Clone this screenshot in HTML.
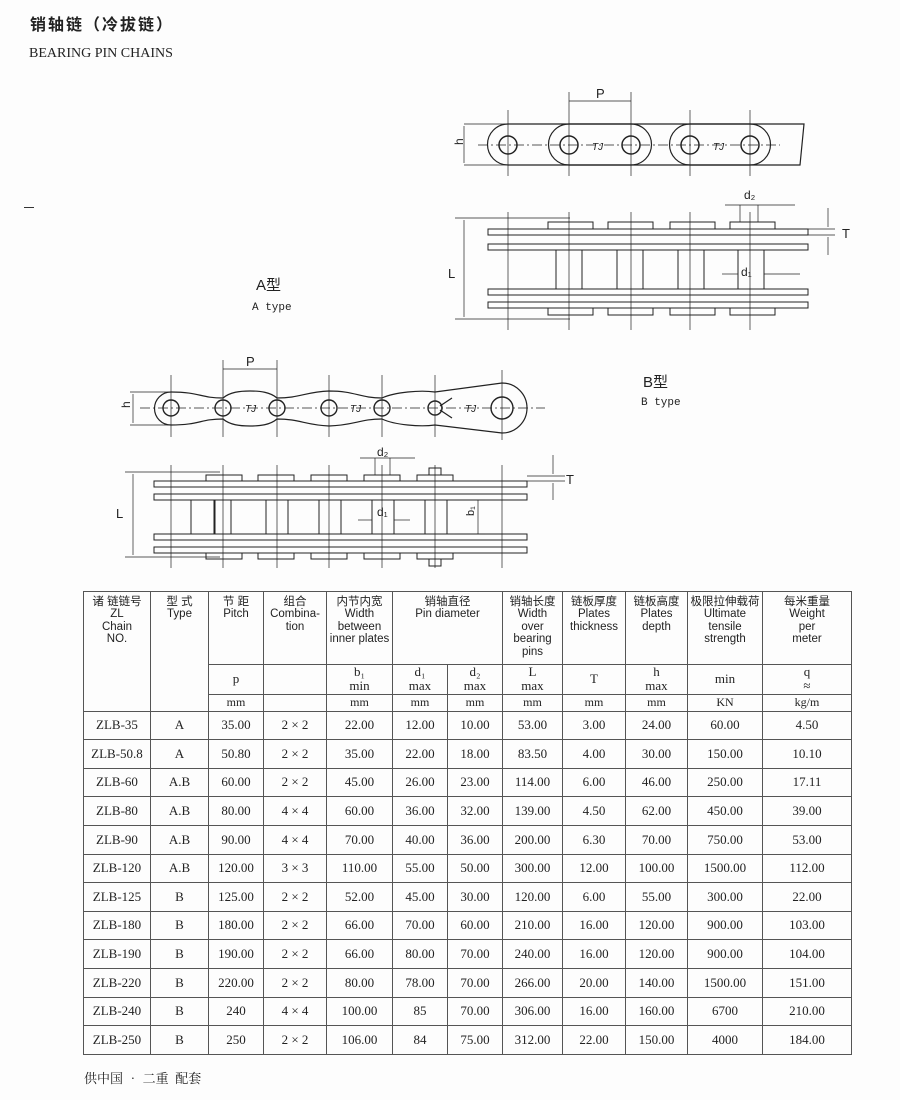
<!DOCTYPE html>
<html><head><meta charset="utf-8"><style>
body{margin:0;width:900px;height:1100px;background:#fdfdfd;position:relative;overflow:hidden;font-family:"Liberation Serif","Noto Serif CJK SC",serif;color:#222}
.a{position:absolute}
table{position:absolute;left:83px;top:591px;border-collapse:collapse;font-size:13px}
td{border:1px solid #555;text-align:center;padding:0;line-height:1.1}
.h{font-family:"Liberation Sans","Noto Sans CJK SC",sans-serif;font-size:11.5px;vertical-align:top;padding-top:4px;line-height:1.08}
tr.d td{height:27.6px;font-size:13px}
</style></head><body>
<div class="a" style="left:30px;top:11px;font:bold 16px 'Noto Sans CJK SC',sans-serif;letter-spacing:2px">销轴链（冷拔链）</div>
<div class="a" style="left:29px;top:46px;font-size:14px">BEARING PIN CHAINS</div>
<div class="a" style="left:24px;top:207px;width:10px;border-top:1px solid #333"></div>
<div class="a" style="left:256px;top:274px;font:15px 'Liberation Sans','Noto Sans CJK SC',sans-serif">A型</div>
<div class="a" style="left:252px;top:302px;font:11px 'Liberation Mono',monospace">A type</div>
<div class="a" style="left:643px;top:371px;font:15px 'Liberation Sans','Noto Sans CJK SC',sans-serif">B型</div>
<div class="a" style="left:641px;top:397px;font:11px 'Liberation Mono',monospace">B type</div>
<div class="a" style="left:84px;top:1068px;font-size:13px;font-family:'Noto Serif CJK SC',serif">供中国 • 二重&nbsp;&nbsp;配套</div>

<svg class="a" style="left:0;top:0" width="900" height="590" stroke="#222" fill="none" stroke-width="1.2" font-family="Liberation Sans,sans-serif">
<g>
<path d="M508 124 H804 L800 165 H508 A20.5 20.5 0 0 1 508 124"/>
<path d="M569 124 H631 A20.5 20.5 0 0 1 631 165 H569 A20.5 20.5 0 0 1 569 124"/>
<path d="M690 124 H750 A20.5 20.5 0 0 1 750 165 H690 A20.5 20.5 0 0 1 690 124"/>
<line x1="478" y1="145" x2="780" y2="145" stroke-width="0.7" stroke-dasharray="10 3 2 3"/>
<g stroke-width="1.5"><circle cx="508" cy="145" r="9"/><circle cx="569" cy="145" r="9"/><circle cx="631" cy="145" r="9"/><circle cx="690" cy="145" r="9"/><circle cx="750" cy="145" r="9"/></g>
<g stroke-width="0.7"><line x1="508" y1="110" x2="508" y2="176"/><line x1="569" y1="92" x2="569" y2="176"/><line x1="631" y1="92" x2="631" y2="176"/><line x1="690" y1="110" x2="690" y2="176"/><line x1="750" y1="110" x2="750" y2="176"/>
<line x1="569" y1="101" x2="631" y2="101"/><line x1="464" y1="124" x2="510" y2="124"/><line x1="464" y1="165" x2="510" y2="165"/><line x1="464" y1="126" x2="464" y2="163"/></g>
<text x="596" y="98" font-size="13" fill="#222" stroke="none">P</text>
<text x="458" y="150" font-size="12" fill="#222" stroke="none" transform="rotate(-90 458 145)">h</text>
<text x="592" y="150" font-size="10" font-style="italic" fill="#222" stroke="none">TJ</text>
<text x="713" y="150" font-size="10" font-style="italic" fill="#222" stroke="none">TJ</text>
</g>
<g stroke-width="1">
<rect x="488" y="229" width="320" height="6"/><rect x="488" y="244" width="320" height="6"/>
<rect x="488" y="289" width="320" height="6"/><rect x="488" y="302" width="320" height="6"/>
<rect x="548" y="222" width="45" height="7"/><rect x="670" y="222" width="45" height="7"/><rect x="730" y="222" width="45" height="7"/><rect x="608" y="222" width="45" height="7"/>
<rect x="548" y="308" width="45" height="7"/><rect x="670" y="308" width="45" height="7"/><rect x="608" y="308" width="45" height="7"/><rect x="730" y="308" width="45" height="7"/>
<rect x="556" y="250" width="26" height="39"/><rect x="617" y="250" width="26" height="39"/><rect x="678" y="250" width="26" height="39"/><rect x="738" y="250" width="26" height="39"/>
<g stroke-width="0.7"><line x1="508" y1="212" x2="508" y2="330"/><line x1="569" y1="212" x2="569" y2="330"/><line x1="631" y1="212" x2="631" y2="330"/><line x1="690" y1="212" x2="690" y2="330"/><line x1="750" y1="212" x2="750" y2="330"/>
<line x1="455" y1="218" x2="570" y2="218"/><line x1="455" y1="319" x2="570" y2="319"/><line x1="464" y1="220" x2="464" y2="317"/>
<line x1="725" y1="205" x2="795" y2="205"/><line x1="740" y1="205" x2="740" y2="222"/><line x1="758" y1="205" x2="758" y2="222"/>
<line x1="722" y1="274" x2="738" y2="274"/><line x1="764" y1="274" x2="800" y2="274"/>
<line x1="780" y1="229" x2="835" y2="229"/><line x1="780" y1="235" x2="835" y2="235"/><line x1="828" y1="208" x2="828" y2="227"/><line x1="828" y1="237" x2="828" y2="255"/></g>
<text x="448" y="278" font-size="13" fill="#222" stroke="none">L</text>
<text x="744" y="199" font-size="12" fill="#222" stroke="none">d₂</text>
<text x="741" y="276" font-size="12" fill="#222" stroke="none">d₁</text>
<text x="842" y="238" font-size="13" fill="#222" stroke="none">T</text>
</g>
<g>
<path d="M171 392 C200 392 200 398 223 398 C230 392 240 391 250 391 C260 391 270 392 277 398 C300 398 305 392 329 391 C355 391 360 398 382 398 C395 392 420 390 435 392 L502 383 A25 25 0 0 1 502 433 L435 425 C420 427 395 425 382 419 C360 419 355 425 329 426 C305 425 300 419 277 419 C270 425 260 426 250 426 C240 426 230 425 223 419 C200 419 200 425 171 425 A16.5 16.5 0 0 1 171 392"/>
<line x1="140" y1="408" x2="545" y2="408" stroke-width="0.7" stroke-dasharray="10 3 2 3"/>
<g stroke-width="1.4"><circle cx="171" cy="408" r="8"/><circle cx="223" cy="408" r="8"/><circle cx="277" cy="408" r="8"/><circle cx="329" cy="408" r="8"/><circle cx="382" cy="408" r="8"/><circle cx="435" cy="408" r="7"/><circle cx="502" cy="408" r="11"/></g>
<path d="M440 406 L452 398 M440 410 L452 418"/>
<g stroke-width="0.7"><line x1="171" y1="375" x2="171" y2="437"/><line x1="223" y1="360" x2="223" y2="437"/><line x1="277" y1="360" x2="277" y2="437"/><line x1="329" y1="375" x2="329" y2="437"/><line x1="382" y1="375" x2="382" y2="437"/><line x1="435" y1="375" x2="435" y2="437"/><line x1="502" y1="370" x2="502" y2="440"/>
<line x1="223" y1="369" x2="277" y2="369"/><line x1="130" y1="392" x2="175" y2="392"/><line x1="130" y1="425" x2="175" y2="425"/><line x1="133" y1="394" x2="133" y2="423"/></g>
<text x="246" y="366" font-size="13" fill="#222" stroke="none">P</text>
<text x="126" y="412" font-size="12" fill="#222" stroke="none" transform="rotate(-90 126 408)">h</text>
<text x="245" y="412" font-size="10" font-style="italic" fill="#222" stroke="none">TJ</text>
<text x="350" y="412" font-size="10" font-style="italic" fill="#222" stroke="none">TJ</text>
<text x="465" y="412" font-size="10" font-style="italic" fill="#222" stroke="none">TJ</text>
</g>
<g stroke-width="1">
<rect x="154" y="481" width="373" height="6"/><rect x="154" y="494" width="373" height="6"/>
<rect x="154" y="534" width="373" height="6"/><rect x="154" y="547" width="373" height="6"/>
<rect x="206" y="475" width="36" height="6"/><rect x="258" y="475" width="36" height="6"/><rect x="311" y="475" width="36" height="6"/><rect x="364" y="475" width="36" height="6"/><rect x="417" y="475" width="36" height="6"/>
<rect x="206" y="553" width="36" height="6"/><rect x="258" y="553" width="36" height="6"/><rect x="311" y="553" width="36" height="6"/><rect x="364" y="553" width="36" height="6"/><rect x="417" y="553" width="36" height="6"/>
<rect x="191" y="500" width="23" height="34"/><rect x="215" y="500" width="16" height="34"/><rect x="266" y="500" width="22" height="34"/><rect x="319" y="500" width="22" height="34"/><rect x="372" y="500" width="22" height="34"/><rect x="425" y="500" width="22" height="34"/>
<rect x="429" y="468" width="12" height="7"/><rect x="429" y="559" width="12" height="7"/>
<g stroke-width="0.7"><line x1="171" y1="465" x2="171" y2="568"/><line x1="223" y1="465" x2="223" y2="568"/><line x1="277" y1="465" x2="277" y2="568"/><line x1="329" y1="465" x2="329" y2="568"/><line x1="382" y1="465" x2="382" y2="568"/><line x1="435" y1="465" x2="435" y2="568"/><line x1="502" y1="465" x2="502" y2="568"/>
<line x1="125" y1="472" x2="220" y2="472"/><line x1="125" y1="557" x2="220" y2="557"/><line x1="133" y1="474" x2="133" y2="555"/>
<line x1="360" y1="458" x2="415" y2="458"/><line x1="375" y1="458" x2="375" y2="475"/><line x1="390" y1="458" x2="390" y2="475"/>
<line x1="358" y1="520" x2="372" y2="520"/><line x1="394" y1="520" x2="410" y2="520"/>
<line x1="478" y1="500" x2="478" y2="534"/><line x1="455" y1="500" x2="485" y2="500"/><line x1="455" y1="534" x2="485" y2="534"/>
<line x1="527" y1="476" x2="565" y2="476"/><line x1="527" y1="481" x2="565" y2="481"/><line x1="553" y1="455" x2="553" y2="474"/><line x1="553" y1="483" x2="553" y2="500"/></g>
<text x="116" y="518" font-size="13" fill="#222" stroke="none">L</text>
<text x="377" y="456" font-size="12" fill="#222" stroke="none">d₂</text>
<text x="377" y="516" font-size="12" fill="#222" stroke="none">d₁</text>
<text x="470" y="520" font-size="11" fill="#222" stroke="none" transform="rotate(-90 470 516)">b₁</text>
<text x="566" y="484" font-size="13" fill="#222" stroke="none">T</text>
</g>
</svg>

<table>
<colgroup><col style="width:67px"><col style="width:58px"><col style="width:55px"><col style="width:63px"><col style="width:66px"><col style="width:55px"><col style="width:55px"><col style="width:60px"><col style="width:63px"><col style="width:62px"><col style="width:75px"><col style="width:89px"></colgroup>
<tr style="height:73px"><td class="h" rowspan="3">诸 链链号<br>ZL<br>Chain<br>NO.</td><td class="h" rowspan="3">型 式<br>Type</td><td class="h">节 距<br>Pitch</td><td class="h">组合<br>Combina-<br>tion</td><td class="h">内节内宽<br>Width<br>between<br>inner plates</td><td class="h" colspan="2">销轴直径<br>Pin diameter</td><td class="h">销轴长度<br>Width<br>over<br>bearing<br>pins</td><td class="h">链板厚度<br>Plates<br>thickness</td><td class="h">链板高度<br>Plates<br>depth</td><td class="h">极限拉伸载荷<br>Ultimate<br>tensile<br>strength</td><td class="h">每米重量<br>Weight<br>per<br>meter</td></tr>
<tr style="height:29px"><td>p</td><td></td><td>b₁<br>min</td><td>d₁<br>max</td><td>d₂<br>max</td><td>L<br>max</td><td>T</td><td>h<br>max</td><td>min</td><td>q<br>≈</td></tr>
<tr style="height:17px;font-size:12px"><td>mm</td><td></td><td>mm</td><td>mm</td><td>mm</td><td>mm</td><td>mm</td><td>mm</td><td>KN</td><td>kg/m</td></tr>
<tr class="d"><td>ZLB-35</td><td>A</td><td>35.00</td><td>2 × 2</td><td>22.00</td><td>12.00</td><td>10.00</td><td>53.00</td><td>3.00</td><td>24.00</td><td>60.00</td><td>4.50</td></tr>
<tr class="d"><td>ZLB-50.8</td><td>A</td><td>50.80</td><td>2 × 2</td><td>35.00</td><td>22.00</td><td>18.00</td><td>83.50</td><td>4.00</td><td>30.00</td><td>150.00</td><td>10.10</td></tr>
<tr class="d"><td>ZLB-60</td><td>A.B</td><td>60.00</td><td>2 × 2</td><td>45.00</td><td>26.00</td><td>23.00</td><td>114.00</td><td>6.00</td><td>46.00</td><td>250.00</td><td>17.11</td></tr>
<tr class="d"><td>ZLB-80</td><td>A.B</td><td>80.00</td><td>4 × 4</td><td>60.00</td><td>36.00</td><td>32.00</td><td>139.00</td><td>4.50</td><td>62.00</td><td>450.00</td><td>39.00</td></tr>
<tr class="d"><td>ZLB-90</td><td>A.B</td><td>90.00</td><td>4 × 4</td><td>70.00</td><td>40.00</td><td>36.00</td><td>200.00</td><td>6.30</td><td>70.00</td><td>750.00</td><td>53.00</td></tr>
<tr class="d"><td>ZLB-120</td><td>A.B</td><td>120.00</td><td>3 × 3</td><td>110.00</td><td>55.00</td><td>50.00</td><td>300.00</td><td>12.00</td><td>100.00</td><td>1500.00</td><td>112.00</td></tr>
<tr class="d"><td>ZLB-125</td><td>B</td><td>125.00</td><td>2 × 2</td><td>52.00</td><td>45.00</td><td>30.00</td><td>120.00</td><td>6.00</td><td>55.00</td><td>300.00</td><td>22.00</td></tr>
<tr class="d"><td>ZLB-180</td><td>B</td><td>180.00</td><td>2 × 2</td><td>66.00</td><td>70.00</td><td>60.00</td><td>210.00</td><td>16.00</td><td>120.00</td><td>900.00</td><td>103.00</td></tr>
<tr class="d"><td>ZLB-190</td><td>B</td><td>190.00</td><td>2 × 2</td><td>66.00</td><td>80.00</td><td>70.00</td><td>240.00</td><td>16.00</td><td>120.00</td><td>900.00</td><td>104.00</td></tr>
<tr class="d"><td>ZLB-220</td><td>B</td><td>220.00</td><td>2 × 2</td><td>80.00</td><td>78.00</td><td>70.00</td><td>266.00</td><td>20.00</td><td>140.00</td><td>1500.00</td><td>151.00</td></tr>
<tr class="d"><td>ZLB-240</td><td>B</td><td>240</td><td>4 × 4</td><td>100.00</td><td>85</td><td>70.00</td><td>306.00</td><td>16.00</td><td>160.00</td><td>6700</td><td>210.00</td></tr>
<tr class="d"><td>ZLB-250</td><td>B</td><td>250</td><td>2 × 2</td><td>106.00</td><td>84</td><td>75.00</td><td>312.00</td><td>22.00</td><td>150.00</td><td>4000</td><td>184.00</td></tr>
</table>
</body></html>
